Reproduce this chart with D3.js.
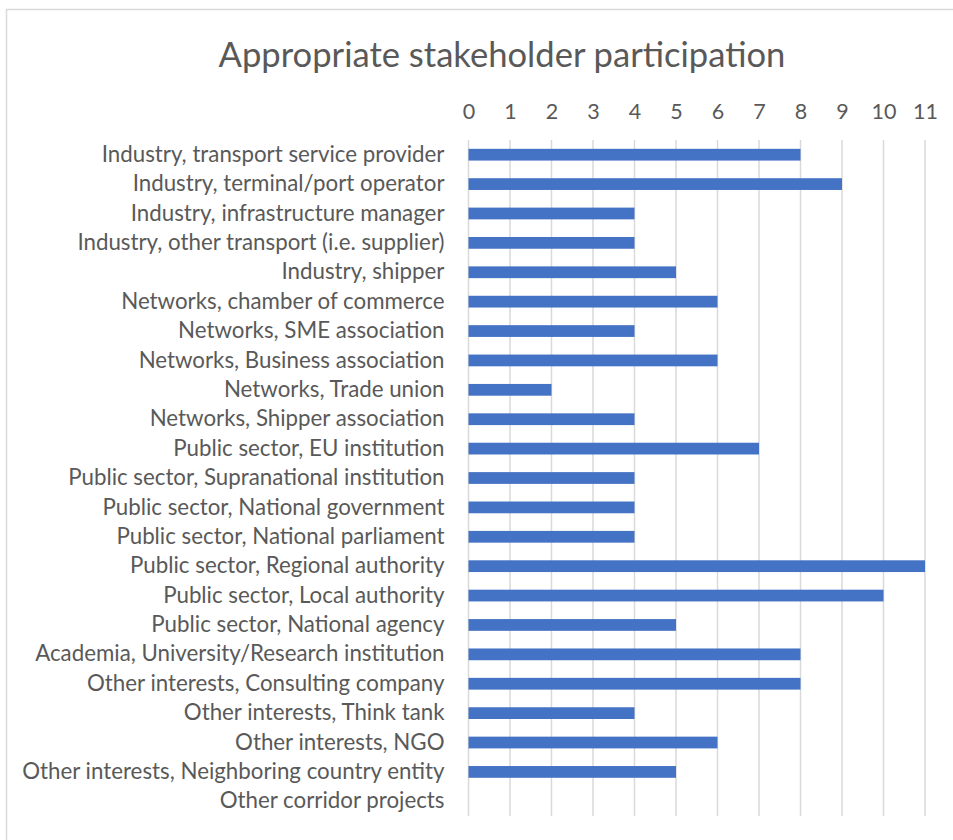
<!DOCTYPE html>
<html>
<head>
<meta charset="utf-8">
<script src="https://cdn.jsdelivr.net/npm/d3@7"></script>
<style>
  html, body { margin: 0; padding: 0; background: #fff; }
  svg { display: block; }
</style>
</head>
<body>
<svg id="chart" width="953" height="840"></svg>
<script>
const categories = [
  "Industry, transport service provider",
  "Industry, terminal/port operator",
  "Industry, infrastructure manager",
  "Industry, other transport (i.e. supplier)",
  "Industry, shipper",
  "Networks, chamber of commerce",
  "Networks, SME association",
  "Networks, Business association",
  "Networks, Trade union",
  "Networks, Shipper association",
  "Public sector, EU institution",
  "Public sector, Supranational institution",
  "Public sector, National government",
  "Public sector, National parliament",
  "Public sector, Regional authority",
  "Public sector, Local authority",
  "Public sector, National agency",
  "Academia, University/Research institution",
  "Other interests, Consulting company",
  "Other interests, Think tank",
  "Other interests, NGO",
  "Other interests, Neighboring country entity",
  "Other corridor projects"
];
const counts = [8, 9, 4, 4, 5, 6, 4, 6, 2, 4, 7, 4, 4, 4, 11, 10, 5, 8, 8, 4, 6, 5, 0];
const tickValues = [0, 1, 2, 3, 4, 5, 6, 7, 8, 9, 10, 11];
const title = "Appropriate stakeholder participation";

const fontFamily = "Lato, 'Open Sans', 'Noto Sans', sans-serif";
const textColor = "#595959";
const gridColor = "#d9d9d9";
const barColor = "#4472C4";

const svg = d3.select("#chart");

// Chart frame
svg.append("rect")
  .attr("x", 6.5).attr("y", 9.5)
  .attr("width", 960).attr("height", 850)
  .attr("fill", "#fff")
  .attr("stroke", gridColor).attr("stroke-width", 1.5);

const plot = { left: 468.5, right: 925, top: 140, bottom: 816 };

const x = d3.scaleLinear().domain([0, 11]).range([plot.left, plot.right]);
const y = d3.scaleBand().domain(categories).range([plot.top, plot.bottom]).paddingInner(0.6).paddingOuter(0.3);

// Title
svg.append("text")
  .attr("x", 502).attr("y", 67)
  .attr("text-anchor", "middle")
  .attr("fill", textColor)
  .attr("font-family", fontFamily)
  .attr("font-size", 34.6)
  .text(title);

// Vertical gridlines
svg.append("g")
  .selectAll("line")
  .data(tickValues)
  .join("line")
  .attr("x1", d => x(d)).attr("x2", d => x(d))
  .attr("y1", plot.top).attr("y2", plot.bottom)
  .attr("stroke", gridColor).attr("stroke-width", 1.5);

// Top value axis
const xAxis = svg.append("g")
  .attr("transform", `translate(0,${plot.top})`)
  .call(d3.axisTop(x).tickValues(tickValues).tickSize(0).tickPadding(21).tickFormat(d3.format("d")));
xAxis.select(".domain").remove();
xAxis.selectAll("text")
  .attr("fill", textColor)
  .attr("font-family", fontFamily)
  .attr("font-size", 21.5);

// Bars
svg.append("g")
  .selectAll("rect")
  .data(categories.map((c, i) => ({ c, v: counts[i] })))
  .join("rect")
  .attr("x", x(0))
  .attr("y", d => y(d.c))
  .attr("width", d => x(d.v) - x(0))
  .attr("height", y.bandwidth())
  .attr("fill", barColor);

// Category axis
const yAxis = svg.append("g")
  .attr("transform", `translate(${plot.left},0)`)
  .call(d3.axisLeft(y).tickSize(0).tickPadding(24));
yAxis.select(".domain").remove();
yAxis.selectAll("text")
  .attr("fill", textColor)
  .attr("font-family", fontFamily)
  .attr("font-size", 22.3);
</script>
</body>
</html>
